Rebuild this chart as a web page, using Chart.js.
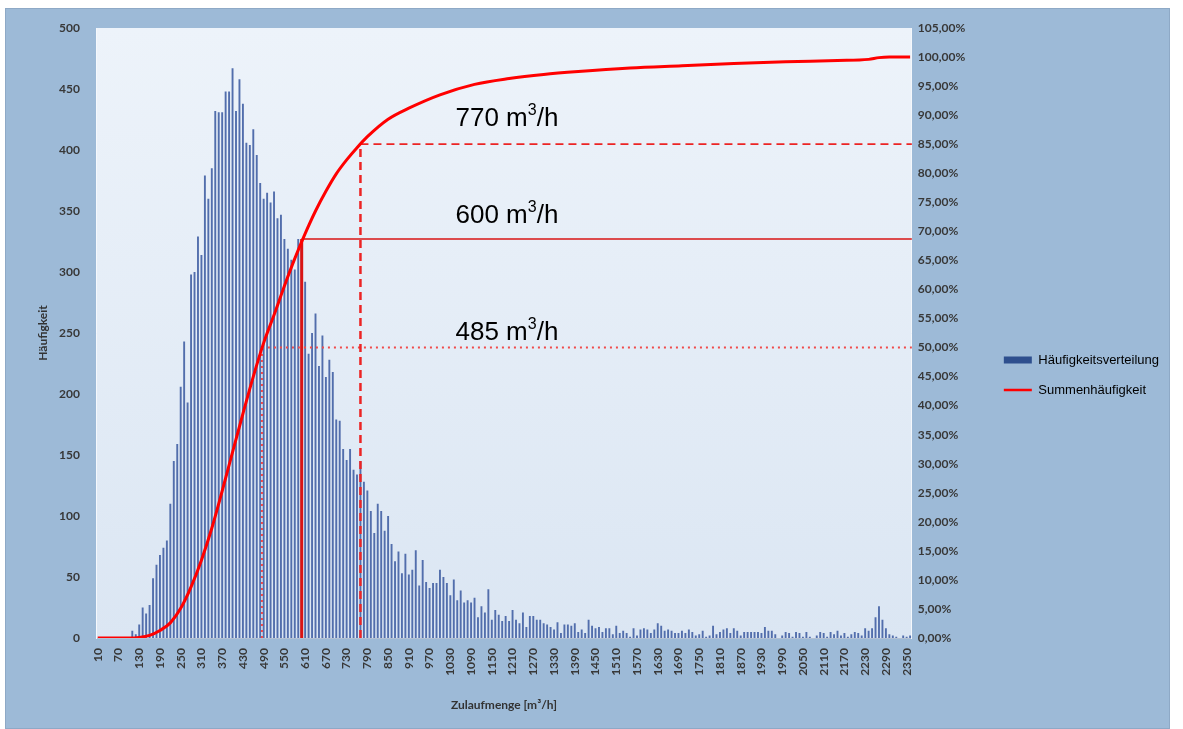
<!DOCTYPE html>
<html lang="de">
<head>
<meta charset="utf-8">
<title>Zulaufmenge</title>
<script src="https://cdn.jsdelivr.net/npm/chart.js@4.4.1/dist/chart.umd.min.js"></script>
<style>
  body { margin: 0; background: #ffffff; }
  #frame {
    position: absolute; left: 5px; top: 8px;
    width: 1165px; height: 721px;
    box-sizing: border-box; border: 1px solid #8ea9c6;
    background: #9dbad7;
  }
  #chart { display: block; }
</style>
</head>
<body>
<div id="frame"><canvas id="chart" width="1163" height="719"></canvas></div>
<script>
// Klassen 10, 20, ... 2360 m3/h
const firstBin = 10
const binStep = 10
const bins = []
for (let v = firstBin; v <= 2360; v += binStep) bins.push(String(v))

// Häufigkeit je Klasse
const frequency = [
  0, 0, 0, 0, 0, 0, 0, 0, 0, 0,
  6, 3, 11, 25, 20, 27, 49, 60, 68, 74, 80, 110, 145, 159, 206, 243, 193, 298, 300, 329, 314, 379, 360, 385,
  432, 431, 431, 448, 448, 467, 432, 458, 438, 406, 404, 417, 396, 373, 360, 365, 357, 366, 344, 347,
  327, 319, 310, 302, 327, 321, 292, 233, 250, 266, 223, 248, 214, 228,
  218, 179, 178, 155, 146, 155, 138, 134, 145, 128, 121, 104, 86, 110, 104, 88, 100, 77, 63, 71,
  53, 69, 52, 56, 72, 43, 64, 46, 41, 45, 45, 56,
  50,
  45, 35, 48, 31, 39, 29, 31, 29, 33, 17, 26, 21, 40, 15, 23, 19, 14, 18, 14, 23,
  15, 12, 21, 9, 18, 18, 15, 15, 12, 11, 9, 7, 13, 4, 11, 11, 10, 12, 5, 7,
  4, 15, 10, 8, 9, 5, 8, 8, 3, 10, 4, 6, 4, 1, 8, 2, 7, 8, 7, 4,
  7, 12, 10, 6, 7, 6, 4, 4, 6,
  4, 7, 5, 2, 3, 6, 1, 2, 10, 3, 5, 7, 8, 4, 8, 6, 2, 5, 5, 5,
  5, 5, 4, 9, 6, 6, 3, 0, 2, 5, 4, 1, 5, 4, 1, 5, 1, 0, 2, 5,
  4, 1, 5, 3, 6, 2, 4, 1, 3, 5, 4, 2, 8, 6, 8, 17, 26, 15, 8, 3,
  2, 1, 0, 2, 1, 2,
]

const cumFlow = [10, 100, 130, 160, 190, 220, 250, 280, 310, 340, 370, 400, 430, 460, 490, 520, 550, 580, 610, 640,
  670, 700, 730, 760, 790, 850, 910, 1000, 1100, 1200, 1300, 1400, 1550, 1700, 1850, 2000, 2150, 2240, 2270, 2300, 2360]
const cumShare = [0, 0, 0.1, 0.45, 1.3, 2.6, 5.1, 8.8, 13.4, 18.9, 25.3, 32.0, 38.6, 45.0, 50.8, 55.6, 60.6, 65.3, 69.6, 73.5,
  76.9, 79.9, 82.3, 84.4, 86.3, 89.3, 91.2, 93.5, 95.3, 96.3, 97.0, 97.5, 98.1, 98.5, 98.9, 99.2, 99.4, 99.6, 99.9, 100, 100]

// Hilfslinien: Zulaufmenge und zugehörige Summenhäufigkeit
const refFlow = [485, 600, 770]
const refShare = [50, 68.7, 85]

const tickFont = { family: 'Lato', size: 12, weight: 'bold' }
const tickColor = '#383838'

// Stil der drei Hilfslinien (punktiert, durchgezogen, gestrichelt)
const refStyle = [
  { color: '#f04a4a', dash: [2, 4], vWidth: 2, hWidth: 2 },
  { color: '#d91414', dash: [], vWidth: 3, hWidth: 1.5 },
  { color: '#ec2424', dash: [8, 5], vWidth: 2.5, hWidth: 1.8 },
]
// Beschriftung der Hilfslinien: Startklasse und Höhe der Grundlinie in %
const noteFlow = 1045
const noteShare = [51.3, 71.5, 88.2]

const overlay = {
  id: "overlay",
  beforeDraw(chart) {
    const { ctx, chartArea: a } = chart
    const g = ctx.createLinearGradient(0, a.top, 0, a.bottom)
    g.addColorStop(0, "#edf3fa")
    g.addColorStop(1, "#dbe6f3")
    ctx.save()
    ctx.fillStyle = g
    ctx.fillRect(a.left, a.top, a.width, a.height)
    ctx.restore()
  },
  beforeDatasetDraw(chart, args) {
    // Linien vor der Summenkurve zeichnen
    if (args.index !== 1) return
    const { ctx, chartArea: a, scales } = chart
    refFlow.forEach((flow, k) => {
      const px = scales.x.getPixelForValue((flow - firstBin) / binStep)
      const py = scales.y1.getPixelForValue(refShare[k])
      const st = refStyle[k]
      ctx.save()
      ctx.strokeStyle = st.color
      ctx.setLineDash(st.dash)
      ctx.lineWidth = st.vWidth
      ctx.beginPath()
      ctx.moveTo(px, a.bottom)
      ctx.lineTo(px, py)
      ctx.stroke()
      ctx.lineWidth = st.hWidth
      ctx.beginPath()
      ctx.moveTo(px, py)
      ctx.lineTo(a.right, py)
      ctx.stroke()
      ctx.restore()
    })
  },
  afterDatasetsDraw(chart) {
    const { ctx, scales } = chart
    const big = '26px "Liberation Sans", Arial, sans-serif'
    const small = '16px "Liberation Sans", Arial, sans-serif'
    ctx.save()
    ctx.fillStyle = "#000"
    ctx.textBaseline = "alphabetic"
    refFlow.forEach((flow, k) => {
      let tx = scales.x.getPixelForValue((noteFlow - firstBin) / binStep)
      const ty = scales.y1.getPixelForValue(noteShare[k])
      ctx.font = big
      const head = flow + " m"
      ctx.fillText(head, tx, ty)
      tx += ctx.measureText(head).width
      ctx.font = small
      ctx.fillText("3", tx, ty - 11)
      tx += ctx.measureText("3").width
      ctx.font = big
      ctx.fillText("/h", tx, ty)
    })
    ctx.restore()
  },
}

new Chart(document.getElementById("chart"), {
  type: "bar",
  data: {
    labels: bins,
    datasets: [
      {
        label: "Häufigkeitsverteilung",
        data: frequency,
        yAxisID: "y",
        backgroundColor: "#526eac",
        barPercentage: 0.55,
        categoryPercentage: 1,
        order: 2,
      },
      {
        type: "line",
        label: "Summenhäufigkeit",
        data: cumFlow.map((f, i) => ({ x: String(f), y: cumShare[i] })),
        yAxisID: "y1",
        borderColor: "#ff0000",
        borderWidth: 3,
        pointRadius: 0,
        cubicInterpolationMode: "monotone",
        order: 1,
      },
    ],
  },
  options: {
    responsive: false,
    animation: false,
    layout: { padding: { left: 0, top: 19, right: 0, bottom: 6 } },
    plugins: {
      tooltip: { enabled: false },
      legend: {
        position: "right",
        labels: {
          usePointStyle: true,
          pointStyleWidth: 28,
          boxHeight: 7,
          padding: 17,
          color: "#333",
          font: { family: "Liberation Sans", size: 13 },
          generateLabels: () => [
            { text: "Häufigkeitsverteilung", fillStyle: "#2e4f8e", strokeStyle: "#2e4f8e", lineWidth: 0, pointStyle: "rect", datasetIndex: 0, hidden: false },
            { text: "Summenhäufigkeit", fillStyle: "#ff0000", strokeStyle: "#ff0000", lineWidth: 2.5, pointStyle: "line", datasetIndex: 1, hidden: false },
          ],
        },
      },
    },
    scales: {
      x: {
        grid: { display: false, drawTicks: false },
        border: { color: "#b4c1d3" },
        ticks: {
          autoSkip: false,
          minRotation: 90,
          maxRotation: 90,
          padding: 10,
          color: tickColor,
          font: tickFont,
          callback: (v, i) => (i % 6 === 0 ? bins[i] : ""),
        },
        title: {
          display: true,
          text: "Zulaufmenge [m³/h]",
          color: "#333",
          font: { family: "Lato", size: 12, weight: "bold" },
          padding: { top: 4, bottom: 10 },
        },
        afterFit: (s) => { s.height = 84 },
      },
      y: {
        position: "left",
        min: 0,
        max: 500,
        grid: { display: false, drawTicks: false },
        border: { color: "#f5f8fc" },
        ticks: { stepSize: 50, padding: 16, color: tickColor, font: tickFont },
        title: {
          display: true,
          text: "Häufigkeit",
          color: "#333",
          font: { family: "Lato", size: 12, weight: "bold" },
          padding: { top: 30, bottom: 0 },
        },
        afterFit: (s) => { s.width = 90; s.paddingTop = 0 },
      },
      y1: {
        position: "right",
        min: 0,
        max: 105,
        grid: { display: false, drawTicks: false },
        border: { color: "#f5f8fc" },
        ticks: {
          stepSize: 5,
          padding: 6,
          color: tickColor,
          font: tickFont,
          callback: (v) => v.toFixed(2).replace(".", ",") + "%",
        },
        afterFit: (s) => { s.width = 75; s.paddingTop = 0 },
      },
    },
  },
  plugins: [overlay],
})
</script>
</body>
</html>
